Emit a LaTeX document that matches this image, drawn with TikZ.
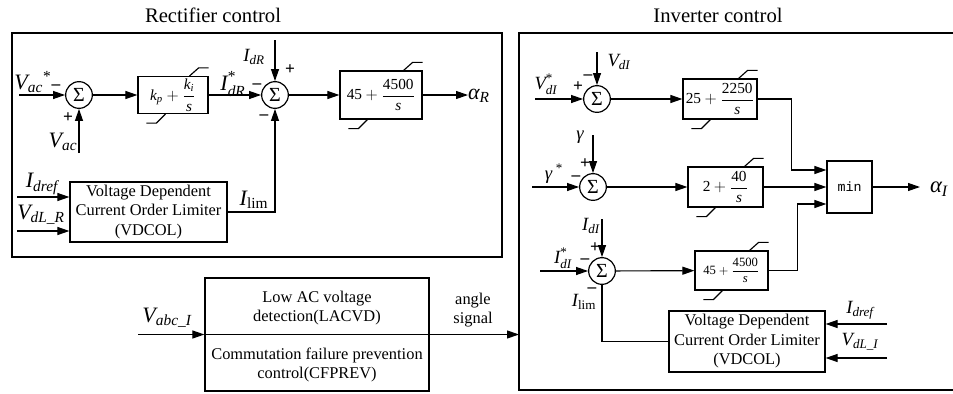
\documentclass[tikz,border=0pt]{standalone}
\usepackage{amsmath}
\usepackage{fontspec}
\setmainfont{Liberation Serif}
\setmonofont{Liberation Mono}
\usetikzlibrary{arrows.meta,calc}
\newcommand\limmarks[1]{%
  \draw[wire] ($(#1.north east)+(-19,0)$) -- ++(9,-8) -- ++(10,0);
  \draw[wire] ($(#1.south west)+(28,0)$) -- ++(-9,9) -- ++(-10,0);}
\newcommand\ti[1]{\textit{#1}}
\begin{document}
\begin{tikzpicture}[x=0.75pt,y=-0.75pt,
  sig/.style={-{Triangle[length=9pt,width=6pt]}, line width=0.85pt},
  wire/.style={line width=0.85pt},
  blk/.style={draw, line width=0.9pt, inner sep=0pt},
  sumnode/.style={circle, draw, line width=0.9pt, minimum size=20pt, inner sep=0pt, font=\fontsize{15}{15}\selectfont},
  frame/.style={draw, line width=0.9pt},
  lbl/.style={inner sep=0pt, font=\fontsize{16.5}{16.5}\selectfont},
  slbl/.style={inner sep=0pt, font=\fontsize{14}{14}\selectfont},
  sgn/.style={inner sep=0pt, font=\bfseries\fontsize{13}{13}\selectfont},
  txt/.style={align=center, inner sep=0pt, font=\fontsize{12.3}{14.6}\selectfont},
  ttl/.style={inner sep=0pt, font=\fontsize{15.5}{15.5}\selectfont},
  frac/.style={inner sep=0pt, font=\fontsize{11.5}{11.5}\selectfont}
]
\useasboundingbox (0,0) rectangle (953,393);

% titles and frames
\node[ttl] (tR) at (213,15) {Rectifier control};
\node[ttl] (tI) at (718,15) {Inverter control};
\draw[frame] (12,33) rectangle (502,257);
\draw[frame] (519,33) rectangle (965,390);
\coordinate (invL) at (519,334);

% ---------------- Rectifier ----------------
\node[sumnode] (s1) at (79,95) {Σ};
\node[blk, minimum width=52.5pt, minimum height=27.75pt] (pi) at (173,95) {};
\node[frac] (pit) at (pi.center) {$\ti{k}_{\ti{p}}+\dfrac{\ti{k}_{\ti{i}}}{\ti{s}}$};
\node[sumnode] (s2) at (275,95) {Σ};
\node[blk, minimum width=61.5pt, minimum height=36pt] (b3) at (381,95) {};
\node[frac] (b3t) at (b3.center) {$\text{45}+\dfrac{\text{4500}}{\ti{s}}$};
\limmarks{pi}
\limmarks{b3}
\node[blk, txt, minimum width=117.75pt, minimum height=45pt] (vR) at (148.5,212)
  {Voltage Dependent\\Current Order Limiter\\(VDCOL)};

\coordinate (cVacs) at (19,95);
\coordinate (cVac) at (79,153);
\coordinate (cIdR) at (275,40);
\coordinate (cAR) at (468,95);
\coordinate (cIdrefR) at (17,197);
\coordinate (cVdLR) at (17,231);

\draw[sig] (cVacs) -- (s1);
\draw[sig] (cVac) -- (s1);
\draw[sig] (s1) -- (pi);
\draw[sig] (pi) -- (s2);
\draw[sig] (cIdR) -- (s2);
\draw[sig] (s2) -- (b3);
\draw[sig] (b3) -- (cAR);
\draw[sig] (vR.east) -| (s2.south);
\draw[sig] (cIdrefR) -- (cIdrefR -| vR.west);
\draw[sig] (cVdLR) -- (cVdLR -| vR.west);

\node[lbl] (lVacs) at (33,82) {$\ti{V}_{\ti{ac}}{}^{\text{*}}$};
\node[sgn] (m1) at (56,87) {–};
\node[sgn] (p1) at (68,118) {+};
\node[lbl] (lVac) at (63,142) {$\ti{V}_{\ti{ac}}$};
\node[lbl] (lIdRs) at (233,84) {$\ti{I}_{\ti{dR}}^{\text{*}}$};
\node[sgn] (m2) at (257,86) {–};
\node[slbl] (lIdR) at (254,57) {$\ti{I}_{\ti{dR}}$};
\node[sgn] (p2) at (290,70) {+};
\node[sgn] (m3) at (264,117) {–};
\node[lbl] (lAR) at (479,96) {$\ti{α}_{\ti{R}}$};
\node[lbl] (lIdrefR) at (42,184) {$\ti{I}_{\ti{dref}}$};
\node[lbl] (lVdLR) at (41,215) {$\ti{V}_{\ti{dL\_R}}$};
\node[lbl] (lIlimR) at (254,200) {$\ti{I}_{\text{lim}}$};

% ---------------- Bottom block ----------------
\node[blk, minimum width=168pt, minimum height=84.75pt] (cb) at (317,334.5) {};
\draw[wire] (cb.west) -- (cb.east);
\node[txt] (cbt1) at (317,308) {Low AC voltage\\detection(LACVD)};
\node[txt] (cbt2) at (317,365) {Commutation failure prevention\\control(CFPREV)};
\coordinate (cVabc) at (138,334.5);
\draw[sig] (cVabc) -- (cb.west);
\draw[sig] (cb.east) -- (invL |- cb.east);
\node[lbl] (lVabc) at (167,318) {$\ti{V}_{\ti{abc\_I}}$};
\node[txt] (lang) at (473,310) {angle\\signal};

% ---------------- Inverter ----------------
\node[sumnode] (s3) at (597,99) {Σ};
\node[sumnode] (s4) at (593,187) {Σ};
\node[sumnode] (s5) at (602,271) {Σ};
\node[blk, minimum width=55.5pt, minimum height=30pt] (b4) at (720,99) {};
\node[frac] (b4t) at (b4.center) {$\text{25}+\dfrac{\text{2250}}{\ti{s}}$};
\node[blk, minimum width=56.25pt, minimum height=30pt] (b5) at (725.5,187) {};
\node[frac] (b5t) at (b5.center) {$\text{2}+\dfrac{\text{40}}{\ti{s}}$};
\node[blk, minimum width=54.75pt, minimum height=29.25pt] (b6) at (731.5,270.5) {};
\node[frac, font=\fontsize{9.5}{9.5}\selectfont] (b6t) at (b6.center) {$\text{45}+\dfrac{\text{4500}}{\ti{s}}$};
\limmarks{b4}
\limmarks{b5}
\limmarks{b6}
\node[blk, minimum width=33.75pt, minimum height=39pt, font=\ttfamily\fontsize{10}{10}\selectfont] (mn) at (849.5,187) {min};
\node[blk, txt, minimum width=117pt, minimum height=45.75pt] (vI) at (747,341.5)
  {Voltage Dependent\\Current Order Limiter\\(VDCOL)};

\coordinate (cVdIs) at (535,99);
\coordinate (cVdI) at (597,52);
\coordinate (cGam) at (593,135);
\coordinate (cGams) at (532,187);
\coordinate (cIdI) at (602,219);
\coordinate (cIdIs) at (540,271);
\coordinate (cAI) at (920,187);
\coordinate (cIdrefI) at (887,324);
\coordinate (cVdLI) at (887,358);
\coordinate (mIn1) at ($(mn.west)+(0,-17)$);
\coordinate (mIn3) at ($(mn.west)+(0,17)$);

\draw[sig] (cVdIs) -- (s3);
\draw[sig] (cVdI) -- (s3);
\draw[sig] (s3) -- (b4);
\draw[sig] (cGam) -- (s4);
\draw[sig] (cGams) -- (s4);
\draw[sig] (s4) -- (b5);
\draw[sig] (cIdI) -- (s5);
\draw[sig] (cIdIs) -- (s5);
\draw[sig] (s5) -- (b6);
\draw[sig] (b4.east) -- ++(34,0) |- (mIn1);
\draw[sig] (b5.east) -- (mn.west);
\draw[sig] (b6.east) -- ++(29,0) |- (mIn3);
\draw[sig] (mn) -- (cAI);
\draw[wire] (vI.west) -| (s5.south);
\draw[sig] (cIdrefI) -- (cIdrefI -| vI.east);
\draw[sig] (cVdLI) -- (cVdLI -| vI.east);

\node[slbl] (lVdIs) at (546,84) {$\ti{V}_{\ti{dI}}^{\text{*}}$};
\node[sgn] (p3) at (578,87) {+};
\node[sgn] (m4) at (588,77) {–};
\node[slbl] (lVdI) at (619,62) {$\ti{V}_{\ti{dI}}$};
\node[slbl] (lGam) at (580,137) {$\ti{γ}$};
\node[sgn] (p4) at (585,164) {+};
\node[sgn] (m5) at (576,178) {–};
\node[slbl] (lGams) at (554,174) {$\ti{γ}^{\;\text{*}}$};
\node[slbl] (lIdI) at (591,226) {$\ti{I}_{\ti{dI}}$};
\node[slbl] (lIdIs) at (563,258) {$\ti{I}_{\ti{dI}}^{\text{*}}$};
\node[sgn] (p5) at (595,248) {+};
\node[sgn] (m6) at (585,261) {–};
\node[sgn] (m7) at (592,290) {–};
\node[slbl] (lIlimI) at (584,302) {$\ti{I}_{\text{lim}}$};
\node[lbl, font=\fontsize{17}{17}\selectfont] (lAI) at (939,189) {$\ti{α}_{\ti{I}}$};
\node[slbl] (lIdrefI) at (860,310) {$\ti{I}_{\ti{dref}}$};
\node[slbl] (lVdLI) at (860,342) {$\ti{V}_{\ti{dL\_I}}$};
\end{tikzpicture}
\end{document}
